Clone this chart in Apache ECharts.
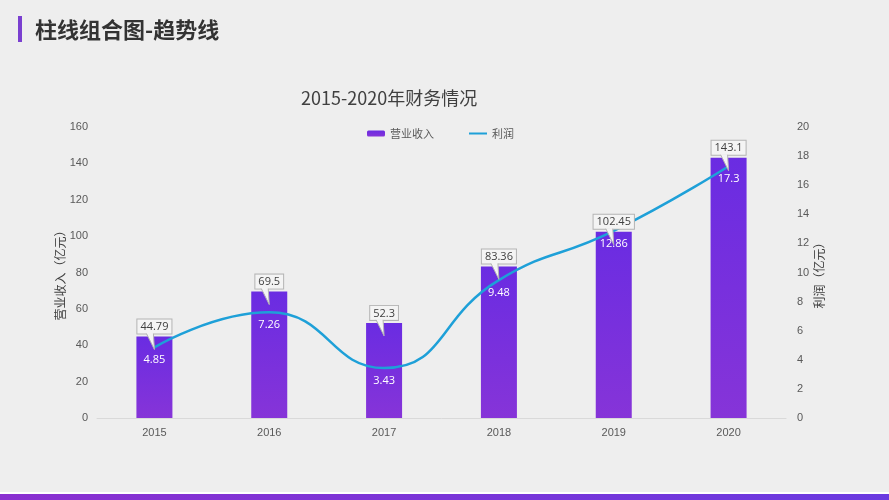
<!DOCTYPE html>
<html><head><meta charset="utf-8">
<script src="https://cdn.jsdelivr.net/npm/echarts@6/dist/echarts.min.js"></script>
<style>html,body{margin:0;padding:0;background:#eeeeee;}#c{width:889px;height:500px;}</style>
</head><body><div id="c"></div>
<script>
var years = ['2015','2016','2017','2018','2019','2020'];
var revenue = [44.79, 69.5, 52.3, 83.36, 102.45, 143.1];
var profit = [4.85, 7.26, 3.43, 9.48, 12.86, 17.3];
var seriesNames = ['营业收入', '利润'];
var pageTitle = '柱线组合图-趋势线';
var chartTitle = '2015-2020年财务情况';
var leftAxisName = '营业收入（亿元）';
var rightAxisName = '利润（亿元）';

var chart = echarts.init(document.getElementById('c'), null, {renderer:'canvas'});
var CJK = "'Noto Sans CJK SC', sans-serif";
var NUM = "'Liberation Sans', 'Noto Sans CJK SC', sans-serif";
var barGrad = new echarts.graphic.LinearGradient(0,0,0,1,[{offset:0,color:'#6a2ce2'},{offset:1,color:'#8634d8'}]);

chart.setOption({
  backgroundColor:'#eeeeee',
  animation:false,
  title:[{text:pageTitle,left:30,top:14,textStyle:{fontFamily:CJK,fontSize:22,fontWeight:'bold',color:'#333333'}},
         {text:chartTitle,left:296,top:84,textStyle:{fontFamily:CJK,fontSize:18,fontWeight:'normal',color:'#404040'}}],
  graphic:[
    {type:'rect',left:18,top:16,shape:{width:4,height:26},style:{fill:'#7a3fd0'}},
    {type:'rect',left:0,top:492,shape:{width:889,height:2},style:{fill:'#ffffff'}},
    {type:'rect',left:0,top:494,shape:{width:889,height:6},style:{fill:new echarts.graphic.LinearGradient(0,0,1,0,[{offset:0,color:'#8a30d0'},{offset:1,color:'#6a3ae0'}])}}
  ],
  legend:{data:[{name:seriesNames[0]},{name:seriesNames[1],itemStyle:{opacity:0}}],top:123,left:362,itemGap:34,itemWidth:18,itemHeight:6,
    textStyle:{fontFamily:CJK,fontSize:11,color:'#595959'}},
  grid:{left:97,right:103,top:127,bottom:82},
  xAxis:{type:'category',data:years,axisTick:{show:false},
    axisLine:{lineStyle:{color:'#d9d9d9',width:1}},
    axisLabel:{fontFamily:NUM,fontSize:11,color:'#595959',margin:9}},
  yAxis:[
    {type:'value',min:0,max:160,interval:20,name:leftAxisName,nameLocation:'middle',nameGap:31,nameRotate:90,nameMoveOverlap:false,
     nameTextStyle:{fontFamily:CJK,fontSize:12,color:'#404040'},
     axisLine:{show:false},axisTick:{show:false},splitLine:{show:false},
     axisLabel:{fontFamily:NUM,fontSize:11,color:'#595959',margin:9}},
    {type:'value',min:0,max:20,interval:2,name:rightAxisName,nameLocation:'middle',nameGap:27,nameRotate:90,nameMoveOverlap:false,
     nameTextStyle:{fontFamily:CJK,fontSize:12,color:'#404040'},
     axisLine:{show:false},axisTick:{show:false},splitLine:{show:false},
     axisLabel:{fontFamily:NUM,fontSize:11,color:'#595959',margin:11}}
  ],
  series:[
    {name:seriesNames[0],type:'bar',data:revenue,barWidth:36,itemStyle:{color:barGrad},z:2},
    {name:seriesNames[1],type:'line',yAxisIndex:1,data:profit,smooth:true,showSymbol:true,symbol:'circle',symbolSize:0,
     lineStyle:{color:'#1ea0d8',width:2.5},itemStyle:{color:'#1ea0d8'},z:3,
     label:{show:true,position:'bottom',distance:7,color:'#ffffff',fontFamily:"'Open Sans', sans-serif",fontSize:11}},
    {name:'callout',type:'custom',data:revenue.map(function(v,i){return [i,v];}),z:5,
     encode:{x:0,y:1},
     renderItem:function(params,api){
       var p = api.coord([api.value(0), api.value(1)]);
       var cx = p[0], top = p[1];
       var by = top - 3;
       var bg = '#f4f4f4', bc = '#b4b4b4';
       return {type:'group',children:[
         {type:'text',x:cx,y:by,style:{text:String(api.value(1)),fill:'#404040',
           font:"11px 'Open Sans', sans-serif",align:'center',verticalAlign:'bottom',
           backgroundColor:bg,borderColor:bc,borderWidth:1,padding:[2,3,1,3]}},
         {type:'polygon',shape:{points:[[cx-8,by-0.5],[cx-1,by-0.5],[cx,top+13]]},style:{fill:bg,stroke:null}},
         {type:'polyline',shape:{points:[[cx-8,by],[cx,top+13],[cx-1,by]]},style:{stroke:bc,lineWidth:1,fill:null}}
       ]};
     }}
  ]
});
</script></body></html>
